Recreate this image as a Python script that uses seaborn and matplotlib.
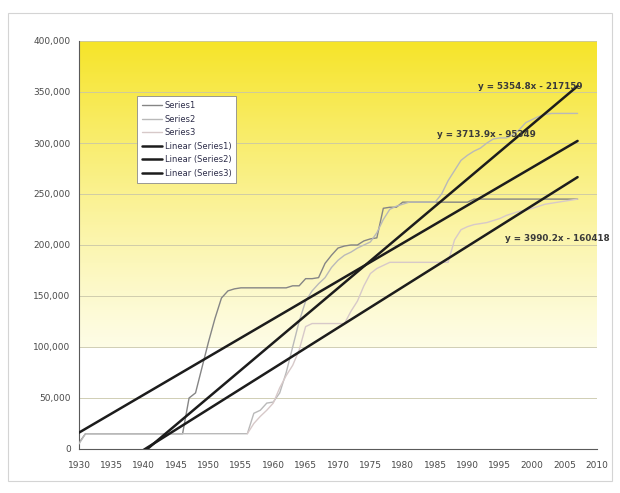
import numpy as np
import pandas as pd
import matplotlib
matplotlib.use("Agg")
import matplotlib.pyplot as plt
from matplotlib.lines import Line2D
from matplotlib.patches import Rectangle
import seaborn as sns

# ---- data -------------------------------------------------------------
years = list(range(1930, 2008))

series1 = ([6000] + [15000] * 16 +
           [50000, 55000, 80000, 105000, 128000, 148000,
            155000, 157000, 158000] + [158000] * 7 +
           [160000, 160000,
            167000, 167000, 168000, 182000, 190000, 197000, 199000, 200000,
            200000, 204000, 206000, 207000,
            236000, 237000, 237000, 242000] + [242000] * 10 + [245000] * 17)

series2 = ([5000] + [15000] * 26 +
           [35000, 38000, 45000, 46000, 55000, 75000, 100000, 125000,
            145000, 155000, 162000, 168000, 178000, 185000, 190000, 193000,
            197000, 200000, 203000, 212000, 225000, 235000, 238000, 240000] +
           [242000] * 5 +
           [250000, 263000, 273000, 283000, 288000, 292000, 295000, 300000,
            304000, 305000, 305000, 308000, 313000, 320000, 323000, 326000,
            328000] + [329000] * 5)

series3 = ([np.nan] * 26 +
           [15000, 25000, 32000, 38000, 45000, 60000, 72000, 82000, 97000,
            120000] + [123000] * 6 +
           [135000, 145000, 160000, 172000, 177000, 180000, 183000] +
           [183000] * 9 +
           [205000, 215000, 218000, 220000, 221000, 222000, 224000, 226000,
            229000, 231000, 233000, 234000, 236000, 238000, 240000, 241000,
            242000, 243000, 244000, 245000])

series_names = ["Series1", "Series2", "Series3"]

# linear trend coefficients (x = year - 1900)
trend_slopes = [3713.9, 5354.8, 3990.2]
trend_intercepts = [-95349, -217159, -160418]

y_ticks = list(range(0, 400001, 50000))
x_ticks = list(range(1930, 2011, 5))

# ---- frames -----------------------------------------------------------
df = pd.DataFrame({
    "year": years * 3,
    "value": series1 + series2 + series3,
    "series": sum([[n] * len(years) for n in series_names], []),
})

trend_rows = []
for name, m, b in zip(series_names, trend_slopes, trend_intercepts):
    for yr in years:
        trend_rows.append({"year": yr, "value": m * (yr - 1900) + b,
                           "series": "Linear (%s)" % name})
trend_df = pd.DataFrame(trend_rows)

# ---- figure -----------------------------------------------------------
sns.set_theme(style="white")
plt.rcParams["font.family"] = ["DejaVu Sans"]

fig = plt.figure(figsize=(6.2, 4.93), dpi=100)
ax = fig.add_axes([79 / 620, 1 - 449 / 493, 518 / 620, 408 / 493])

# outer chart border
fig.patches.append(Rectangle((8 / 620, 12 / 493), 604 / 620, 468 / 493,
                             transform=fig.transFigure, fill=False,
                             edgecolor="#d4d4d4", linewidth=0.8))

# plot-area fill: yellow at the top fading to white near 100,000
n = 400
vals = np.linspace(0, 400000, n)
top = np.array([0.965, 0.895, 0.16])
pale = np.array([0.995, 0.99, 0.90])
white = np.array([1.0, 1.0, 1.0])
grad = np.zeros((n, 1, 3))
for i, v in enumerate(vals):
    if v < 100000:
        grad[i, 0] = white
    else:
        t = ((v - 100000) / 300000) ** 1.15
        grad[i, 0] = pale * (1 - t) + top * t
ax.imshow(grad, extent=[1930, 2010, 0, 400000], origin="lower",
          aspect="auto", zorder=0, interpolation="bilinear")

for yt in y_ticks[1:]:
    ax.axhline(yt, color="#c9c6a8", linewidth=0.6, zorder=1)

palette = {"Series1": "#858585", "Series2": "#b9b9b9", "Series3": "#d7c9c9"}
sns.lineplot(data=df, x="year", y="value", hue="series", palette=palette,
             estimator=None, linewidth=1.0, legend=False, ax=ax, zorder=3)

trend_palette = {"Linear (%s)" % n: "#1c1c1c" for n in series_names}
sns.lineplot(data=trend_df, x="year", y="value", hue="series",
             palette=trend_palette, estimator=None, linewidth=1.8,
             legend=False, ax=ax, zorder=4)

ax.set_xlim(1930, 2010)
ax.set_ylim(0, 400000)
ax.set_xticks(x_ticks)
ax.set_yticks(y_ticks)
ax.set_yticklabels(["{:,}".format(v) for v in y_ticks])
ax.set_xlabel("")
ax.set_ylabel("")
ax.tick_params(axis="both", labelsize=6.5, colors="#4a4a4a", length=3,
               width=0.6, direction="out", pad=3)
ax.tick_params(axis="x", pad=6)
for side in ["top", "right"]:
    ax.spines[side].set_visible(False)
for side in ["left", "bottom"]:
    ax.spines[side].set_color("#5a5a5a")
    ax.spines[side].set_linewidth(0.8)

# trend equations
eq_style = dict(fontsize=6.3, fontweight="bold", color="#3a3a3a",
                ha="center", va="center", zorder=6)
for m, b, (xp, yp) in zip(trend_slopes, trend_intercepts,
                          [(1992.9, 308000), (1999.7, 355000),
                           (2003.9, 206000)]):
    ax.text(xp, yp, "y = %sx - %d" % (m, -b), **eq_style)

# legend
handles = [Line2D([], [], color=palette[n], linewidth=1.0) for n in series_names]
handles += [Line2D([], [], color="#1c1c1c", linewidth=1.8) for _ in series_names]
labels = series_names + ["Linear (%s)" % n for n in series_names]
leg = ax.legend(handles, labels, loc="upper left",
                bbox_to_anchor=(0.112, 0.865), fontsize=6, frameon=True,
                fancybox=False, framealpha=1, edgecolor="#8a8a8a",
                handlelength=2.4, handletextpad=0.3, borderpad=0.6,
                labelspacing=0.55, borderaxespad=0)
leg.get_frame().set_linewidth(0.6)
for txt in leg.get_texts():
    txt.set_color("#2e2e4a")

fig.savefig("out.png", dpi=100)
